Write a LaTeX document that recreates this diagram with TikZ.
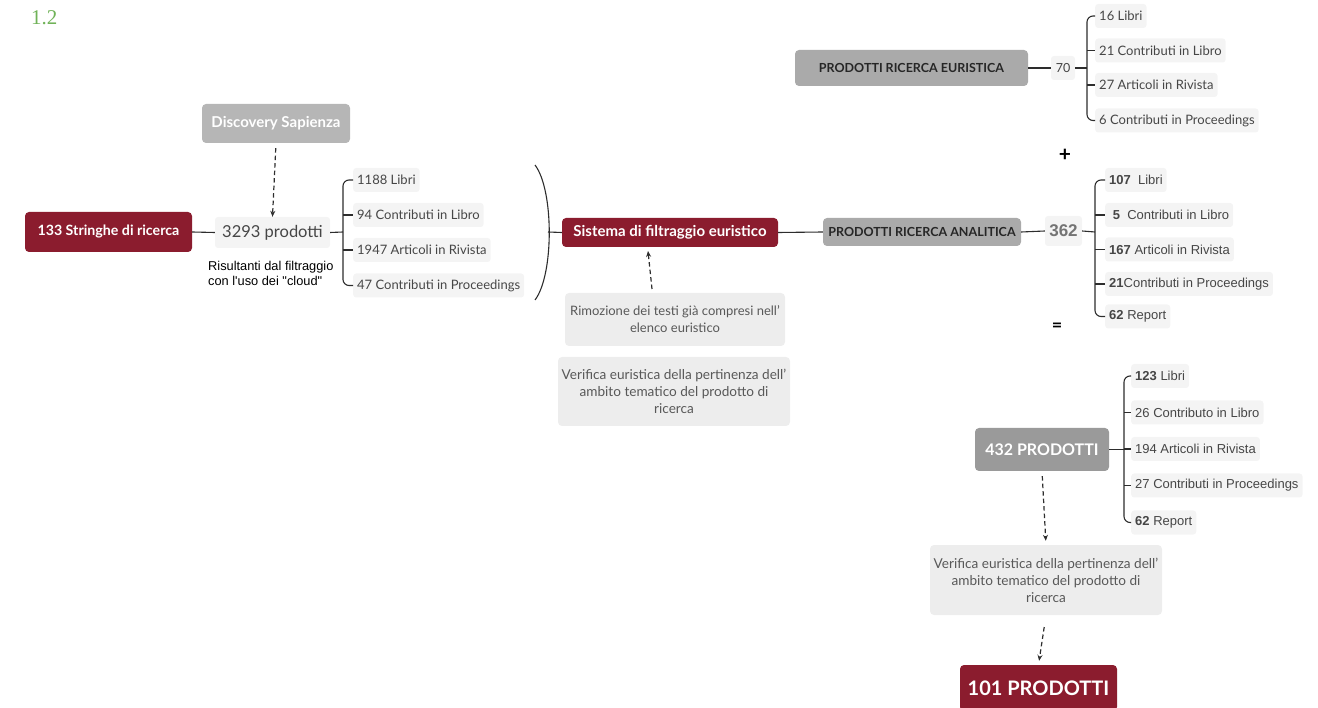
\documentclass[tikz,border=0pt]{standalone}
\usepackage{fontspec}
\setmainfont{Lato}
\newfontfamily\arialf{Liberation Sans}
\newfontfamily\serf{Liberation Serif}
\usetikzlibrary{arrows.meta,calc}
\definecolor{maroon}{RGB}{139,28,46}
\definecolor{gmid}{RGB}{170,170,170}
\definecolor{gdisc}{RGB}{182,182,182}
\definecolor{g432}{RGB}{154,154,154}
\definecolor{gitem}{RGB}{244,244,244}
\definecolor{gdesc}{RGB}{237,237,237}
\definecolor{txt}{RGB}{70,70,70}
\definecolor{lnc}{RGB}{45,45,45}
\definecolor{green12}{RGB}{112,178,88}
\newcommand{\fs}[1]{\fontsize{#1}{\dimexpr #1pt*6/5\relax}\selectfont}
\newcommand{\fsl}[2]{\fontsize{#1}{#2}\selectfont}
\tikzset{
  x=1pt,y=-1pt,
  redbox/.style={fill=maroon,text=white,rounded corners=4,font=\bfseries\fs{14.2},inner sep=0},
  graybox/.style={fill=gmid,text=black!85,rounded corners=4,font=\bfseries\fs{12.5},inner sep=0},
  item/.style={fill=gitem,text=txt,rounded corners=3,anchor=west,font=\fs{13},inner xsep=4,minimum height=24},
  aitem/.style={item,font=\arialf\fs{13}},
  desc/.style={fill=gdesc,text=txt!90,rounded corners=4,align=center,inner sep=0},
  conn/.style={draw=lnc,line width=1.1},
  dasharr/.style={draw=lnc,line width=1.2,dash pattern=on 4.5pt off 3pt,-{Stealth[length=6,width=5]}},
}
\begin{document}
\begin{tikzpicture}
\useasboundingbox (0,0) rectangle (1318,708);
\clip (0,0) rectangle (1318,708);
\node[text=green12,font=\serf\fs{21},anchor=west,inner sep=0] (num) at (31,18) {1.2};

% left part
\node[fill=gdisc,text=white,rounded corners=4,font=\bfseries\fs{15},minimum width=148,minimum height=39,inner sep=0] (disc) at (276,123.5) {Discovery Sapienza};
\node[redbox,minimum width=167,minimum height=40] (str) at (108.5,232) {133 Stringhe di ricerca};
\node[fill=gitem,text=txt,rounded corners=3,font=\fs{16.5},minimum width=115,minimum height=31,inner sep=0] (p3293) at (272.5,232.5) {3293 prodotti};
\node[font=\arialf\fsl{12.8}{15},align=left,anchor=north west,inner sep=0] (ris) at (208,261) {Risultanti dal filtraggio\\con l'uso dei "cloud"};
\draw[dasharr,shorten <=5] (disc.south) -- (p3293.north);
\draw[conn] (str.east) -- (p3293.west);

\coordinate (bA) at (343,232);
\node[item] (l1) at (353,180) {1188 Libri};
\node[item] (l2) at (353,215) {94 Contributi in Libro};
\node[item] (l3) at (353,250) {1947 Articoli in Rivista};
\node[item] (l4) at (353,285.5) {47 Contributi in Proceedings};
\draw[conn,rounded corners=6] (l1.west) -- (l1.west -| bA) -- (l4.west -| bA) -- (l4.west);
\draw[conn,rounded corners=4] (l2.west -| bA) -- (l2.west);
\draw[conn,rounded corners=4] (l3.west -| bA) -- (l3.west);
\draw[conn] (p3293.east) -- (bA);

% parenthesis
\coordinate (pt) at (535,165);
\coordinate (pb) at (535,300);
\coordinate (pm) at (548,232);
\draw[conn] (pt) .. controls (554,190) and (554,275) .. (pb);

\node[redbox,font=\bfseries\fs{15},minimum width=216,minimum height=29] (sis) at (670,232.5) {Sistema di filtraggio euristico};
\draw[conn] (pm) -- (sis.west);

\node[desc,font=\fsl{13}{17},minimum width=220,minimum height=53] (rim) at (675,319.5) {Rimozione dei testi già compresi nell'\\elenco euristico};
\node[desc,font=\fsl{13.6}{17},minimum width=232,minimum height=69] (ver1) at (674,391.5) {Verifica euristica della pertinenza dell'\\ambito tematico del prodotto di\\ricerca};
\coordinate (ra) at (652,289);
\coordinate (rb) at (648,251);
\draw[dasharr] (ra) -- (rb);

% analitica
\node[graybox,minimum width=198,minimum height=28] (ana) at (922,232) {PRODOTTI RICERCA ANALITICA};
\draw[conn] (sis.east) -- (ana.west);
\node[fill=gitem,text=txt!75,rounded corners=3,font=\arialf\bfseries\fs{17},minimum width=37,minimum height=30,inner sep=0] (n362) at (1063.5,231) {362};
\draw[conn] (ana.east) -- (n362.west);
\coordinate (bB) at (1095,232);
\node[aitem] (a1) at (1105,180) {\textbf{107}\ \ Libri};
\node[aitem] (a2) at (1105,215) {\ \textbf{5}\ \ Contributi in Libro};
\node[aitem] (a3) at (1105,249.5) {\textbf{167} Articoli in Rivista};
\node[aitem] (a4) at (1105,284) {\textbf{21}Contributi in Proceedings};
\node[aitem] (a5) at (1105,316.5) {\textbf{62} Report};
\draw[conn,rounded corners=6] (a1.west) -- (a1.west -| bB) -- (a5.west -| bB) -- (a5.west);
\foreach \k in {a2,a3,a4} \draw[conn] (\k.west -| bB) -- (\k.west);
\draw[conn] (n362.east) -- (bB);

\node[font=\bfseries\fs{21}] (plus) at (1065,155) {+};
\node[font=\bfseries\fs{18}] (eq) at (1057,327) {=};

% euristica
\node[graybox,minimum width=233,minimum height=36] (eur) at (911.5,68) {PRODOTTI RICERCA EURISTICA};
\node[fill=gitem,text=txt,rounded corners=3,font=\fs{12.5},minimum width=24,minimum height=24,inner sep=0] (n70) at (1063,68) {70};
\draw[conn] (eur.east) -- (n70.west);
\coordinate (bC) at (1087,68);
\node[item] (e1) at (1095,16) {16 Libri};
\node[item] (e2) at (1095,50.5) {21 Contributi in Libro};
\node[item] (e3) at (1095,85) {27 Articoli in Rivista};
\node[item] (e4) at (1095,120.5) {6 Contributi in Proceedings};
\draw[conn,rounded corners=6] (e1.west) -- (e1.west -| bC) -- (e4.west -| bC) -- (e4.west);
\foreach \k in {e2,e3} \draw[conn] (\k.west -| bC) -- (\k.west);
\draw[conn] (n70.east) -- (bC);

% 432
\node[fill=g432,text=white,rounded corners=4,font=\bfseries\fs{16},minimum width=134,minimum height=43,inner sep=0] (p432) at (1042,449.5) {432 PRODOTTI};
\coordinate (bD) at (1124,449.5);
\node[aitem] (b1) at (1131,376) {\textbf{123} Libri};
\node[aitem] (b2) at (1131,412.5) {26 Contributo in Libro};
\node[aitem] (b3) at (1131,449) {194 Articoli in Rivista};
\node[aitem] (b4) at (1131,485.5) {27 Contributi in Proceedings};
\node[aitem] (b5) at (1131,522.5) {\textbf{62} Report};
\draw[conn,rounded corners=6] (b1.west) -- (b1.west -| bD) -- (b5.west -| bD) -- (b5.west);
\foreach \k in {b2,b3,b4} \draw[conn] (\k.west -| bD) -- (\k.west);
\draw[conn] (p432.east) -- (bD);

\node[desc,font=\fsl{13.6}{17},minimum width=232,minimum height=70] (ver2) at (1046,580) {Verifica euristica della pertinenza dell'\\ambito tematico del prodotto di\\ricerca};
\draw[dasharr,shorten <=5,shorten >=4] (p432.south) -- (ver2.north);
\node[redbox,font=\bfseries\fs{20},minimum width=157,minimum height=46] (p101) at (1038.5,688) {101 PRODOTTI};
\draw[dasharr,shorten <=12,shorten >=4] (ver2.south) -- (p101.north);
\end{tikzpicture}
\end{document}
